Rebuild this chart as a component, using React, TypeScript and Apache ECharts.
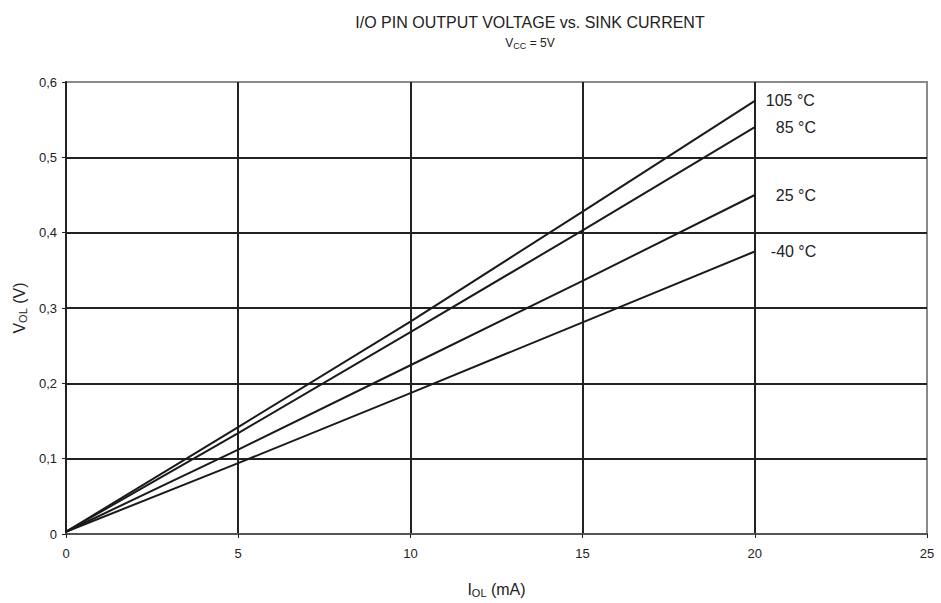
import React, { useEffect, useRef } from "react";
import * as echarts from "echarts";

const xValues = [0, 5, 10, 15, 20];
const v105 = [0.003, 0.142, 0.282, 0.428, 0.575];
const v85 = [0.003, 0.134, 0.268, 0.403, 0.54];
const v25 = [0.003, 0.112, 0.224, 0.336, 0.45];
const vm40 = [0.003, 0.094, 0.187, 0.281, 0.375];
const seriesNames = ["105 °C", "85 °C", "25 °C", "-40 °C"];
const labelOffsets = [11, 21, 21, 16];

const FONT = "Liberation Sans, Arial, sans-serif";

export default function App() {
  const ref = useRef<HTMLDivElement>(null);
  useEffect(() => {
    if (!ref.current) return;
    const chart = echarts.init(ref.current, undefined, { renderer: "svg" });
    const all = [v105, v85, v25, vm40];
    chart.setOption({
      animation: false,
      backgroundColor: "#fff",
      textStyle: { fontFamily: FONT },
      title: {
        text: "I/O PIN OUTPUT VOLTAGE vs. SINK CURRENT",
        subtext: "{v|V}{s|CC}{v| = 5V}",
        left: 525,
        textAlign: "center",
        top: 9,
        itemGap: 6,
        textStyle: { fontFamily: FONT, fontSize: 16, fontWeight: "normal", color: "#222" },
        subtextStyle: {
          fontFamily: FONT,
          color: "#222",
          rich: {
            v: { fontFamily: FONT, fontSize: 12, color: "#222" },
            s: { fontFamily: FONT, fontSize: 9, color: "#222", verticalAlign: "bottom", padding: [5, 0, 0, 0] },
          },
        },
      },
      grid: {
        left: 66,
        top: 82,
        right: 14,
        bottom: 58,
        show: true,
        borderColor: "#8a8a8a",
        borderWidth: 2,
        containLabel: false,
      },
      xAxis: {
        type: "value",
        min: 0,
        max: 25,
        interval: 5,
        name: "{v|I}{s|OL}{v| (mA)}",
        nameLocation: "middle",
        nameGap: 46,
        nameTextStyle: {
          rich: {
            v: { fontFamily: FONT, fontSize: 16, color: "#222" },
            s: { fontFamily: FONT, fontSize: 11, color: "#222", verticalAlign: "bottom", padding: [7, 0, 0, 0] },
          },
        },
        axisLine: { show: true, lineStyle: { color: "#555", width: 2 } },
        axisTick: { show: true, length: 4, lineStyle: { color: "#222", width: 1 } },
        axisLabel: { color: "#222", fontSize: 13, fontFamily: FONT, margin: 13 },
        splitLine: { show: true, showMinLine: false, showMaxLine: false, lineStyle: { color: "#222", width: 2 } },
      },
      yAxis: {
        type: "value",
        min: 0,
        max: 0.6,
        interval: 0.1,
        name: "{v|V}{s|OL}{v| (V)}",
        nameLocation: "middle",
        nameRotate: 90,
        nameGap: 38,
        nameTextStyle: {
          rich: {
            v: { fontFamily: FONT, fontSize: 16, color: "#222" },
            s: { fontFamily: FONT, fontSize: 11, color: "#222", verticalAlign: "bottom", padding: [7, 0, 0, 0] },
          },
        },
        axisLine: { show: true, lineStyle: { color: "#222", width: 2 } },
        axisTick: { show: true, length: 4, lineStyle: { color: "#222", width: 1 } },
        axisLabel: {
          color: "#222",
          fontSize: 13,
          fontFamily: FONT,
          margin: 9,
          formatter: (v: number) => (v === 0 ? "0" : v.toFixed(1).replace(".", ",")),
        },
        splitLine: { show: true, showMinLine: false, showMaxLine: false, lineStyle: { color: "#222", width: 2 } },
      },
      series: all.map((vals, i) => ({
        type: "line",
        name: seriesNames[i],
        data: xValues.map((x, j) => [x, vals[j]]),
        showSymbol: false,
        symbol: "none",
        lineStyle: { color: "#1a1a1a", width: 2 },
        endLabel: {
          show: true,
          formatter: seriesNames[i],
          distance: labelOffsets[i],
          color: "#222",
          fontSize: 16,
          fontFamily: FONT,
        },
      })),
    });
    return () => chart.dispose();
  }, []);
  return (
    <div
      ref={ref}
      style={{ position: "absolute", left: 0, top: 0, width: 941, height: 603 }}
    />
  );
}
